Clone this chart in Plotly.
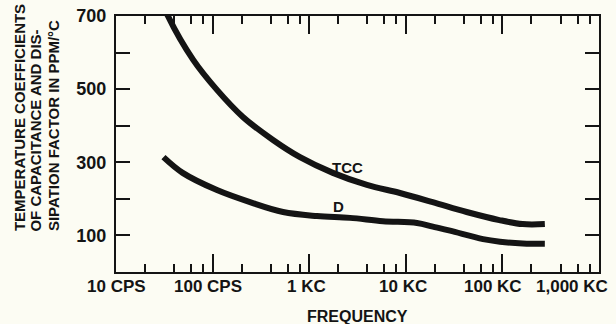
import numpy as np
import plotly.graph_objects as go

# datos (frecuencia en Hz, valores en PPM/°C)
freq_tcc = [28, 34.5, 63, 111, 206, 422, 803, 1760, 3960, 8700, 19000, 42700, 93000, 162000, 275000]
tcc = [760, 700, 580, 498, 424, 361, 314, 271, 238, 216, 191, 164, 142, 131, 131]

freq_d = [31, 49, 111, 244, 536, 1205, 2640, 5800, 13060, 19050, 28700, 63000, 94400, 162000, 275000]
d = [314, 271, 224, 191, 164, 153, 148, 139, 134, 124, 113, 90, 83, 78, 77]

x_ticks = [10, 100, 1000, 10000, 100000, 1000000]
x_labels = ["10 CPS", "100 CPS", "1 KC", "10 KC", "100 KC", "1,000 KC"]
x_minor = [m * 10**k for k in range(1, 6) for m in (2, 4, 6, 8)]

y_ticks = [100, 200, 300, 400, 500, 600, 700]
y_labels = ["100", "", "300", "", "500", "", "700"]

FONT = "Liberation Sans, Arial, sans-serif"
INK = "#141414"
BG = "#fcfcf3"

fig = go.Figure()
fig.add_trace(go.Scatter(x=freq_tcc, y=tcc, mode="lines", name="TCC",
                         line=dict(color=INK, width=6, shape="spline")))
fig.add_trace(go.Scatter(x=freq_d, y=d, mode="lines", name="D",
                         line=dict(color=INK, width=6, shape="spline")))

fig.update_layout(
    width=616, height=324,
    paper_bgcolor=BG, plot_bgcolor=BG,
    showlegend=False,
    margin=dict(t=16, l=116, r=17, b=52, autoexpand=False),
    font=dict(family=FONT, color=INK, size=15),
)
fig.update_xaxes(
    type="log", range=[1, 6], showgrid=False, zeroline=False, automargin=False,
    showline=True, linecolor=INK, linewidth=2, mirror="allticks",
    ticks="inside", ticklen=18, tickwidth=1.5, tickcolor=INK,
    tickvals=x_ticks, showticklabels=False,
    minor=dict(tickvals=x_minor, ticks="inside", ticklen=8, tickwidth=1.5, tickcolor=INK),
)
fig.update_yaxes(
    range=[0, 700], showgrid=False, zeroline=False, automargin=False,
    showline=True, linecolor=INK, linewidth=2, mirror="allticks",
    ticks="inside", ticklen=14, tickwidth=1.5, tickcolor=INK,
    tickvals=y_ticks, ticktext=y_labels, ticklabelstandoff=4,
    tickfont=dict(family=FONT, size=18, color=INK, weight="bold"),
)

# etiquetas del eje x como anotaciones (la ultima queda dentro del lienzo)
shifts = [0, -5, -3, -3, -9, -27]
for v, lab, sh in zip(x_ticks, x_labels, shifts):
    fig.add_annotation(x=np.log10(v), y=0, xref="x", yref="paper", text=lab,
                       showarrow=False, xshift=sh, yanchor="middle", yshift=-14,
                       font=dict(family=FONT, size=17, color=INK, weight="bold"))

fig.add_annotation(x=0.5, y=0, xref="paper", yref="paper", text="FREQUENCY",
                   showarrow=False, yanchor="middle", yshift=-44,
                   font=dict(family=FONT, size=16, color=INK, weight="bold"))

# titulo del eje y en tres lineas
ytitle = ["TEMPERATURE COEFFICIENTS", "OF CAPACITANCE AND DIS-", "SIPATION FACTOR IN PPM/°C"]
for i, t in enumerate(ytitle):
    fig.add_annotation(x=0, y=0.15, xref="paper", yref="paper", text=t,
                       showarrow=False, textangle=-90, xanchor="center", yanchor="bottom",
                       xshift=-97 + 17 * i,
                       font=dict(family=FONT, size=15, color=INK, weight="bold"))

fig.add_annotation(x=np.log10(2500), y=287, text="TCC", showarrow=False,
                   font=dict(family=FONT, size=15, color=INK, weight="bold"))
fig.add_annotation(x=np.log10(2000), y=180, text="D", showarrow=False,
                   font=dict(family=FONT, size=15, color=INK, weight="bold"))

fig.write_html("out.html", config={"displayModeBar": False},
               post_script="document.body.style.margin='0px';")
